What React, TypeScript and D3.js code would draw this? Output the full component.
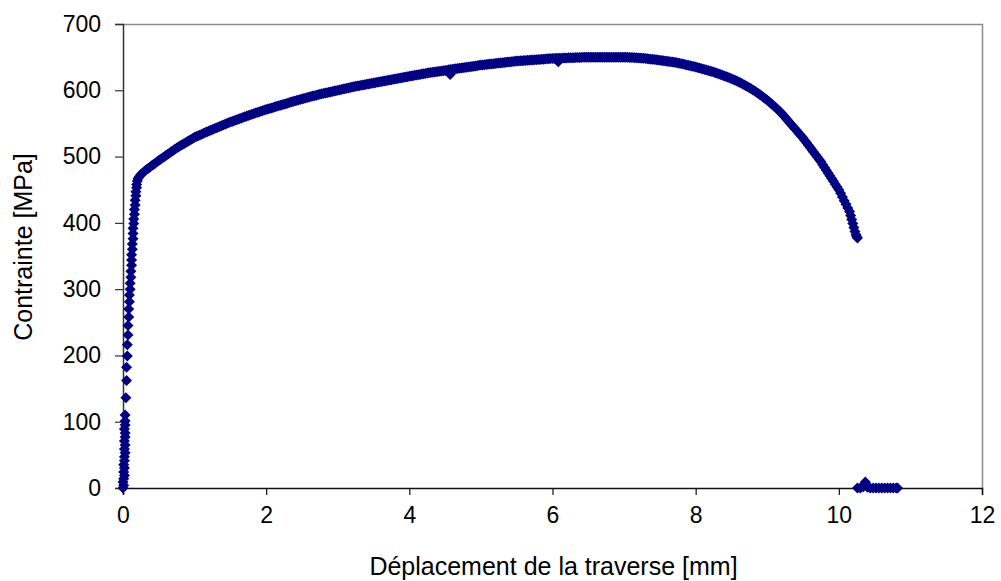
import React, { useRef, useEffect } from 'react'
import * as d3 from 'd3'

const elasticData: [number, number][] = [
    [0, 0], [0.01, 4], [0.0, 9], [0.01, 14], [0.02, 19], [0.01, 24], [0.02, 30], [0.01, 35],
    [0.02, 41], [0.02, 47], [0.03, 53], [0.02, 59], [0.03, 65], [0.02, 71], [0.03, 77],
    [0.03, 83], [0.02, 89], [0.03, 95], [0.03, 101], [0.03, 110], [0.04, 136], [0.05, 162],
    [0.05, 182], [0.06, 199], [0.06, 216], [0.07, 231], [0.07, 245], [0.08, 258], [0.08, 270],
    [0.09, 281], [0.09, 291], [0.1, 300], [0.1, 309], [0.11, 318], [0.11, 327], [0.12, 336],
    [0.12, 344], [0.12, 352], [0.13, 360], [0.13, 368], [0.14, 376], [0.14, 384], [0.14, 392],
    [0.15, 399], [0.15, 406], [0.16, 413], [0.16, 420], [0.17, 427], [0.17, 434], [0.18, 441],
    [0.18, 447], [0.19, 453], [0.19, 458], [0.2, 463], [0.21, 467], [0.23, 470], [0.25, 473],
    [0.27, 475],
]

const hardeningData: [number, number][] = [
    [0.3, 478], [0.325, 480], [0.35, 482], [0.375, 484], [0.4, 486], [0.425, 488], [0.45, 490],
    [0.475, 492], [0.5, 494], [0.525, 495.9], [0.55, 497.8], [0.575, 499.7], [0.6, 501.6],
    [0.625, 503.5], [0.65, 505.4], [0.675, 507.3], [0.7, 509.2], [0.725, 511.1], [0.75, 513],
    [0.775, 514.6], [0.8, 516.2], [0.825, 517.8], [0.85, 519.4], [0.875, 521], [0.9, 522.6],
    [0.925, 524.2], [0.95, 525.8], [0.975, 527.4], [1.0, 529], [1.025, 530.2], [1.05, 531.4],
    [1.075, 532.6], [1.1, 533.8], [1.125, 535], [1.15, 536.2], [1.175, 537.4], [1.2, 538.6],
    [1.225, 539.8], [1.25, 541], [1.275, 542.1], [1.3, 543.2], [1.325, 544.3], [1.35, 545.4],
    [1.375, 546.5], [1.4, 547.6], [1.425, 548.7], [1.45, 549.8], [1.475, 550.9], [1.5, 552],
    [1.525, 553], [1.55, 554], [1.575, 555], [1.6, 556], [1.625, 557], [1.65, 558],
    [1.675, 559], [1.7, 560], [1.725, 561], [1.75, 562], [1.775, 562.9], [1.8, 563.8],
    [1.825, 564.7], [1.85, 565.6], [1.875, 566.5], [1.9, 567.4], [1.925, 568.3], [1.95, 569.2],
    [1.975, 570.1], [2.0, 571], [2.025, 571.8], [2.05, 572.6], [2.075, 573.4], [2.1, 574.2],
    [2.125, 575], [2.15, 575.8], [2.175, 576.6], [2.2, 577.4], [2.225, 578.2], [2.25, 579],
    [2.275, 579.8], [2.3, 580.6], [2.325, 581.4], [2.35, 582.2], [2.375, 583], [2.4, 583.8],
    [2.425, 584.6], [2.45, 585.4], [2.475, 586.2], [2.5, 587], [2.525, 587.7], [2.55, 588.4],
    [2.575, 589.1], [2.6, 589.8], [2.625, 590.5], [2.65, 591.2], [2.675, 591.9], [2.7, 592.6],
    [2.725, 593.3], [2.75, 594], [2.775, 594.6], [2.8, 595.2], [2.825, 595.8], [2.85, 596.4],
    [2.875, 597], [2.9, 597.6], [2.925, 598.2], [2.95, 598.8], [2.975, 599.4], [3.0, 600],
    [3.025, 600.6], [3.05, 601.2], [3.075, 601.8], [3.1, 602.4], [3.125, 603], [3.15, 603.6],
    [3.175, 604.2], [3.2, 604.8], [3.225, 605.4], [3.25, 606], [3.275, 606.5], [3.3, 607],
    [3.325, 607.5], [3.35, 608], [3.375, 608.5], [3.4, 609], [3.425, 609.5], [3.45, 610],
    [3.475, 610.5], [3.5, 611], [3.525, 611.5], [3.55, 612], [3.575, 612.5], [3.6, 613],
    [3.625, 613.5], [3.65, 614], [3.675, 614.5], [3.7, 615], [3.725, 615.5], [3.75, 616],
    [3.775, 616.5], [3.8, 617], [3.825, 617.5], [3.85, 618], [3.875, 618.5], [3.9, 619],
    [3.925, 619.5], [3.95, 620], [3.975, 620.5], [4.0, 621], [4.025, 621.5], [4.05, 622],
    [4.075, 622.5], [4.1, 623], [4.125, 623.5], [4.15, 624], [4.175, 624.5], [4.2, 625],
    [4.225, 625.5], [4.25, 626], [4.275, 626.4], [4.3, 626.8], [4.325, 627.2], [4.35, 627.6],
    [4.375, 628], [4.4, 628.4], [4.425, 628.8], [4.45, 629.2], [4.475, 629.6], [4.5, 630],
    [4.525, 630.4], [4.55, 630.8], [4.57, 624], [4.575, 631.2], [4.6, 631.6], [4.625, 632],
    [4.65, 632.4], [4.675, 632.8], [4.7, 633.2], [4.725, 633.6], [4.75, 634], [4.775, 634.4],
    [4.8, 634.8], [4.825, 635.2], [4.85, 635.6], [4.875, 636], [4.9, 636.4], [4.925, 636.8],
    [4.95, 637.2], [4.975, 637.6], [5.0, 638], [5.025, 638.3], [5.05, 638.6], [5.075, 638.9],
    [5.1, 639.2], [5.125, 639.5], [5.15, 639.8], [5.175, 640.1], [5.2, 640.4], [5.225, 640.7],
    [5.25, 641], [5.275, 641.3], [5.3, 641.6], [5.325, 641.9], [5.35, 642.2], [5.375, 642.5],
    [5.4, 642.8], [5.425, 643.1], [5.45, 643.4], [5.475, 643.7], [5.5, 644], [5.525, 644.2],
    [5.55, 644.4], [5.575, 644.6], [5.6, 644.8], [5.625, 645], [5.65, 645.2], [5.675, 645.4],
    [5.7, 645.6], [5.725, 645.8], [5.75, 646], [5.775, 646.2], [5.8, 646.4], [5.825, 646.6],
    [5.85, 646.8], [5.875, 647], [5.9, 647.2], [5.925, 647.4], [5.95, 647.6], [5.975, 647.8],
]

const plateauData: [number, number][] = [
    [6.0, 648], [6.025, 648.1], [6.05, 648.2], [6.075, 648.3], [6.08, 643], [6.1, 648.4],
    [6.125, 648.5], [6.15, 648.6], [6.175, 648.7], [6.2, 648.8], [6.225, 648.9], [6.25, 649],
    [6.275, 649.1], [6.3, 649.2], [6.325, 649.3], [6.35, 649.4], [6.375, 649.5], [6.4, 649.6],
    [6.425, 649.7], [6.45, 649.8], [6.475, 649.9], [6.5, 650], [6.525, 650], [6.55, 650],
    [6.575, 650], [6.6, 650], [6.625, 650], [6.65, 650], [6.675, 650], [6.7, 650],
    [6.725, 650], [6.75, 650], [6.775, 650], [6.8, 650], [6.825, 650], [6.85, 650],
    [6.875, 650], [6.9, 650], [6.925, 650], [6.95, 650], [6.975, 650],
]

const neckingData: [number, number][] = [
    [7.0, 650], [7.025, 649.9], [7.05, 649.7], [7.075, 649.6], [7.1, 649.4], [7.125, 649.3],
    [7.15, 649.1], [7.175, 649], [7.2, 648.8], [7.225, 648.7], [7.25, 648.5], [7.275, 648.2],
    [7.3, 647.9], [7.325, 647.6], [7.35, 647.3], [7.375, 647], [7.4, 646.7], [7.425, 646.4],
    [7.45, 646.1], [7.475, 645.8], [7.5, 645.5], [7.525, 645.1], [7.55, 644.7], [7.575, 644.3],
    [7.6, 643.9], [7.625, 643.5], [7.65, 643.1], [7.675, 642.7], [7.7, 642.3], [7.725, 641.8],
    [7.75, 641.3], [7.775, 640.7], [7.8, 640.1], [7.825, 639.5], [7.85, 638.9], [7.875, 638.3],
    [7.9, 637.6], [7.925, 637], [7.95, 636.3], [7.975, 635.7], [8.0, 635], [8.025, 634.3],
    [8.05, 633.5], [8.075, 632.8], [8.1, 632], [8.125, 631.3], [8.15, 630.5], [8.175, 629.8],
    [8.2, 629], [8.225, 628.2], [8.25, 627.4], [8.275, 626.5], [8.3, 625.6], [8.325, 624.7],
    [8.35, 623.7], [8.375, 622.7], [8.4, 621.7], [8.425, 620.7], [8.45, 619.6], [8.475, 618.5],
    [8.5, 617.4], [8.525, 616.3], [8.55, 615.1], [8.575, 613.9], [8.6, 612.6], [8.625, 611.3],
    [8.65, 609.9], [8.675, 608.5], [8.7, 607], [8.725, 605.5], [8.75, 604], [8.775, 602.3],
    [8.8, 600.6], [8.825, 598.8], [8.85, 597], [8.875, 595.1], [8.9, 593.2], [8.925, 591.2],
    [8.95, 589.2], [8.975, 587.1], [9.0, 585], [9.025, 582.8], [9.05, 580.5], [9.075, 578.1],
    [9.1, 575.7], [9.125, 573.2], [9.15, 570.6], [9.175, 567.9], [9.2, 565.2], [9.225, 562.2],
    [9.25, 559.2], [9.275, 556], [9.3, 552.8], [9.325, 549.7], [9.35, 546.6], [9.375, 543.5],
    [9.4, 540.4], [9.425, 537.3], [9.45, 534.2], [9.475, 531.1], [9.5, 528], [9.525, 524.4],
    [9.55, 520.8], [9.575, 517.2], [9.6, 513.6], [9.625, 510], [9.65, 506.4], [9.675, 502.8],
    [9.7, 499.2], [9.725, 495.6], [9.75, 492], [9.775, 487.8], [9.8, 483.6], [9.825, 479.4],
    [9.85, 475.2], [9.875, 471], [9.9, 466.8], [9.925, 462.6], [9.95, 458.4], [9.975, 454.2],
    [10.0, 450], [10.025, 444.5], [10.05, 439], [10.075, 433.5], [10.1, 428], [10.125, 422.5],
    [10.15, 417], [10.165, 411], [10.18, 405], [10.195, 399], [10.21, 393], [10.225, 387],
    [10.24, 382], [10.25, 379], [10.26, 377],
]

const fractureData: [number, number][] = [
    [10.26, 0], [10.3, 0], [10.34, 2], [10.37, 9], [10.4, 1], [10.44, 0], [10.48, 0],
    [10.52, 0], [10.56, 0], [10.6, 0], [10.64, 0], [10.68, 0], [10.72, 0], [10.76, 0],
    [10.8, 0], [10.82, 0],
]

const xTicks = [0, 2, 4, 6, 8, 10, 12]
const yTicks = [0, 100, 200, 300, 400, 500, 600, 700]

const WIDTH = 1001
const HEIGHT = 581
const FONT = '"Liberation Sans", Arial, sans-serif'
const MARKER = '#000080'

export default function App() {
    const svgRef = useRef<SVGSVGElement>(null)

    useEffect(() => {
        if (!svgRef.current) return
        const svg = d3.select(svgRef.current)
        svg.selectAll('*').remove()

        const left = 123
        const right = 982
        const top = 24
        const bottom = 488

        const xScale = d3.scaleLinear().domain([0, 12]).range([left, right])
        const yScale = d3.scaleLinear().domain([0, 700]).range([bottom, top])

        // cadre de la zone de tracé (haut et droite en gris)
        svg.append('line')
            .attr('x1', left).attr('x2', right + 1)
            .attr('y1', top + 0.5).attr('y2', top + 0.5)
            .attr('stroke', '#8c8c8c').attr('stroke-width', 1.5)
        svg.append('line')
            .attr('x1', right + 0.5).attr('x2', right + 0.5)
            .attr('y1', top).attr('y2', bottom)
            .attr('stroke', '#8c8c8c').attr('stroke-width', 1.5)

        // axe Y
        const yAxis = d3.axisLeft(yScale).tickValues(yTicks).tickSize(8).tickPadding(14)
        const gy = svg.append('g').attr('transform', `translate(${left},0)`).call(yAxis)
        gy.select('.domain').attr('stroke', '#333').attr('stroke-width', 1.5)
        gy.selectAll('.tick line').attr('stroke', '#333').attr('stroke-width', 1.2)
        gy.selectAll('.tick text')
            .attr('font-family', FONT)
            .attr('font-size', 23)
            .attr('fill', '#000')

        // axe X
        const xAxis = d3.axisBottom(xScale).tickValues(xTicks).tickSize(7).tickPadding(12)
        const gx = svg.append('g').attr('transform', `translate(0,${bottom})`).call(xAxis)
        gx.select('.domain').attr('stroke', '#111').attr('stroke-width', 1.5)
        gx.selectAll('.tick line').attr('stroke', '#111').attr('stroke-width', 1.2)
        gx.selectAll('.tick text')
            .attr('font-family', FONT)
            .attr('font-size', 23)
            .attr('fill', '#000')

        // titres des axes
        svg.append('text')
            .attr('x', (left + right) / 2 + 1)
            .attr('y', 575)
            .attr('text-anchor', 'middle')
            .attr('font-family', FONT)
            .attr('font-size', 25)
            .text('Déplacement de la traverse [mm]')

        svg.append('text')
            .attr('transform', `translate(32,${(top + bottom) / 2 - 9}) rotate(-90)`)
            .attr('text-anchor', 'middle')
            .attr('font-family', FONT)
            .attr('font-size', 25)
            .text('Contrainte [MPa]')

        // points de mesure (losanges)
        const diamond = 'M0,-5.5L5.5,0L0,5.5L-5.5,0Z'
        const allPoints = [...elasticData, ...hardeningData, ...plateauData, ...neckingData, ...fractureData]
        svg.append('g')
            .selectAll('path')
            .data(allPoints)
            .enter()
            .append('path')
            .attr('d', diamond)
            .attr('transform', (d) => `translate(${xScale(d[0])},${yScale(d[1])})`)
            .attr('fill', MARKER)
    }, [])

    return (
        <div style={{ position: 'absolute', left: 0, top: 0 }}>
            <svg ref={svgRef} width={WIDTH} height={HEIGHT} style={{ display: 'block', background: '#fff' }} />
        </div>
    )
}
